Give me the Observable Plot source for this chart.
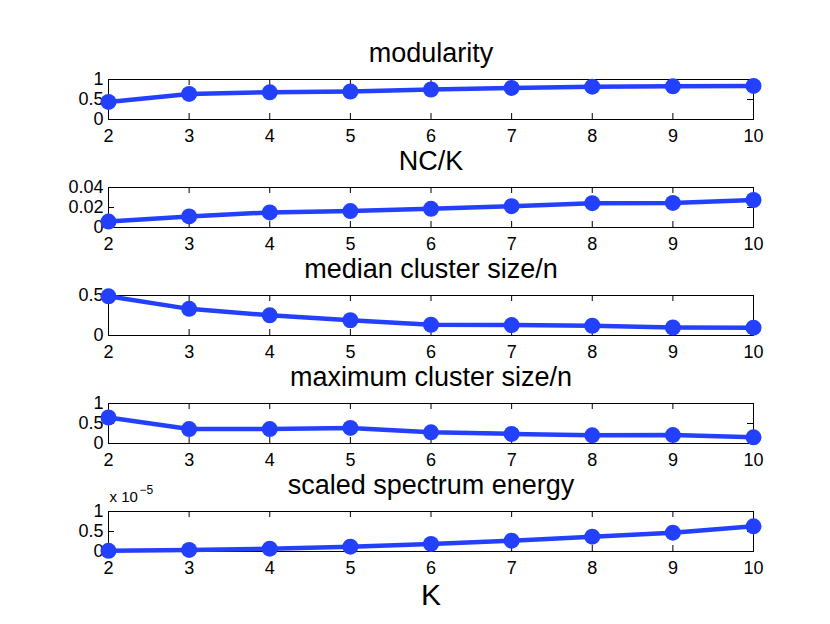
<!DOCTYPE html>
<html>
<head>
<meta charset="utf-8">
<script src="https://cdn.jsdelivr.net/npm/d3@7"></script>
<script src="https://cdn.jsdelivr.net/npm/@observablehq/plot@0.6"></script>
<style>
  html, body { margin: 0; padding: 0; background: #fff; }
  #fig { position: relative; width: 830px; height: 624px; background: #fff; overflow: hidden; }
  #fig .panel { position: absolute; left: 0; }
</style>
</head>
<body>
<div id="fig"></div>
<script>
const K = [2, 3, 4, 5, 6, 7, 8, 9, 10];
const modularity = [0.44, 0.64, 0.68, 0.70, 0.75, 0.79, 0.82, 0.83, 0.84];
const ncPerK = [0.0059, 0.0111, 0.0151, 0.0164, 0.0187, 0.0213, 0.0243, 0.0246, 0.0275];
const medianSize = [0.49, 0.333, 0.252, 0.191, 0.134, 0.13, 0.122, 0.10, 0.098];
const maxSize = [0.65, 0.36, 0.36, 0.39, 0.28, 0.24, 0.205, 0.21, 0.155];
const energy = [0.017, 0.04, 0.07, 0.12, 0.19, 0.27, 0.37, 0.47, 0.63]; // in units of 1e-5

const titles = ["modularity", "NC/K", "median cluster size/n", "maximum cluster size/n", "scaled spectrum energy"];
const series = [modularity, ncPerK, medianSize, maxSize, energy];
const yDomains = [[0, 1], [0, 0.04], [0, 0.5], [0, 1], [0, 1]];
const yTicks = [[0, 0.5, 1], [0, 0.02, 0.04], [0, 0.5], [0, 0.5, 1], [0, 0.5, 1]];
const yLabels = [["0", "0.5", "1"], ["0", "0.02", "0.04"], ["0", "0.5"], ["0", "0.5", "1"], ["0", "0.5", "1"]];
const xLabel = "K";
const exponentBase = "x 10";
const exponentPow = "\u22125";

const W = 830, ML = 108, MR = 77, MT = 40, BOX = 40, MB = 28;
const boxTops = [79, 187, 295, 403, 511];
const innerW = W - ML - MR;
const blue = "#2440ff";
const font = "'Liberation Sans', Arial, Helvetica, sans-serif";

const fig = document.getElementById("fig");

series.forEach((vals, i) => {
  const data = K.map((k, j) => ({k, v: vals[j]}));
  const last = i === series.length - 1;
  const mb = last ? MB + 50 : MB;
  const tickMap = new Map(yTicks[i].map((t, j) => [t, yLabels[i][j]]));
  const marks = [
    Plot.frame({stroke: "black", strokeWidth: 1}),
    Plot.tickX(K, {x: d => d, insetTop: BOX - 6, stroke: "black", strokeWidth: 1}),
    Plot.tickX(K, {x: d => d, insetBottom: BOX - 6, stroke: "black", strokeWidth: 1}),
    Plot.tickY(yTicks[i], {y: d => d, insetRight: innerW - 6, stroke: "black", strokeWidth: 1}),
    Plot.tickY(yTicks[i], {y: d => d, insetLeft: innerW - 6, stroke: "black", strokeWidth: 1}),
    Plot.axisX({ticks: K, tickSize: 0, tickPadding: 10, tickFormat: d => String(d), fontSize: 18, label: null}),
    Plot.axisY({ticks: yTicks[i], tickSize: 0, tickPadding: 5, tickFormat: d => tickMap.get(d), fontSize: 18, label: null}),
    Plot.line(data, {x: "k", y: "v", stroke: blue, strokeWidth: 4.5, strokeLinejoin: "round"}),
    Plot.dot(data, {x: "k", y: "v", r: 8, fill: blue, stroke: "none"}),
    Plot.text([titles[i]], {text: d => d, frameAnchor: "top", lineAnchor: "bottom", dy: -18, fontSize: 27, fill: "black"})
  ];
  if (last) {
    marks.push(Plot.text([xLabel], {text: d => d, frameAnchor: "bottom", lineAnchor: "top", dy: 32, fontSize: 30, fill: "black"}));
    marks.push(Plot.text([exponentBase], {text: d => d, frameAnchor: "top-left", textAnchor: "start", lineAnchor: "bottom", dy: -10, dx: 1, fontSize: 15, fill: "black"}));
    marks.push(Plot.text([exponentPow], {text: d => d, frameAnchor: "top-left", textAnchor: "start", lineAnchor: "bottom", dy: -18, dx: 31, fontSize: 12, fill: "black"}));
  }
  const svg = Plot.plot({
    width: W,
    height: MT + BOX + mb,
    marginLeft: ML,
    marginRight: MR,
    marginTop: MT,
    marginBottom: mb,
    x: {domain: [2, 10], axis: null},
    y: {domain: yDomains[i], axis: null},
    style: {fontFamily: font, fontSize: "18px", color: "black", background: "transparent", overflow: "visible"},
    marks
  });
  svg.classList.add("panel");
  svg.style.top = (boxTops[i] - MT) + "px";
  fig.appendChild(svg);
});
</script>
</body>
</html>
